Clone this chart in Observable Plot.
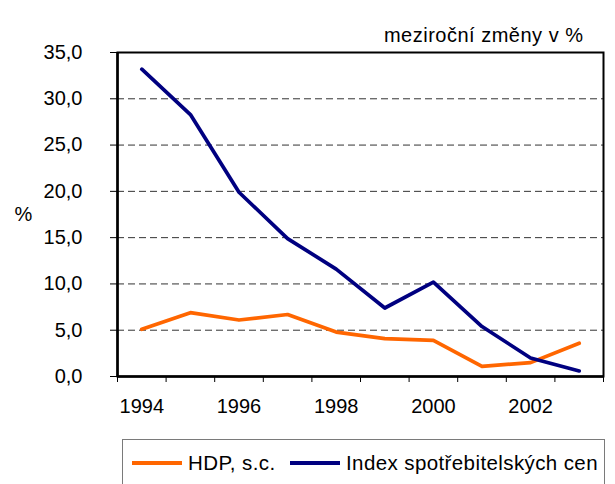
<!DOCTYPE html>
<html>
<head>
<meta charset="utf-8">
<script src="https://cdn.jsdelivr.net/npm/d3@7"></script>
<script src="https://cdn.jsdelivr.net/npm/@observablehq/plot@0.6"></script>
<style>
  html, body { margin: 0; padding: 0; background: #fff; }
  #wrap { position: relative; width: 615px; height: 484px; overflow: hidden; font-family: "Liberation Sans", Arial, sans-serif; }
  #legend { position: absolute; left: 122px; top: 439px; width: 483px; height: 60px; border: 1px solid #7a7a7a; box-sizing: border-box; font-size: 20.5px; letter-spacing: 0.4px; color: #000; }
  .item { position: absolute; top: 10px; display: flex; align-items: center; height: 26px; white-space: nowrap; }
  .sw { display: inline-block; width: 50px; height: 0; border-top: 4px solid; margin-right: 6px; }
</style>
</head>
<body>
<div id="wrap"></div>
<script>
const title = "meziroční změny v %";
const yLabel = "%";
const years = [1994, 1995, 1996, 1997, 1998, 1999, 2000, 2001, 2002, 2003];
const hdp = [5.1, 6.9, 6.1, 6.7, 4.8, 4.1, 3.9, 1.1, 1.5, 3.6];
const cpi = [33.2, 28.3, 19.9, 14.9, 11.6, 7.4, 10.2, 5.4, 2.0, 0.6];
const seriesNames = ["HDP, s.c.", "Index spotřebitelských cen"];
const seriesColors = ["#FF6600", "#000080"];
const yTicks = [0, 5, 10, 15, 20, 25, 30, 35];
const gridValues = [5, 10, 15, 20, 25, 30];
const xLabelTicks = [1994, 1996, 1998, 2000, 2002];
const xBoundaryTicks = [1993.5, 1994.5, 1995.5, 1996.5, 1997.5, 1998.5, 1999.5, 2000.5, 2001.5, 2002.5, 2003.5];

const rows = [];
years.forEach((y, i) => {
  rows.push({year: y, value: hdp[i], series: seriesNames[0]});
});
years.forEach((y, i) => {
  rows.push({year: y, value: cpi[i], series: seriesNames[1]});
});

const fmt = d => d.toFixed(1).replace(".", ",");

const chart = Plot.plot({
  width: 615,
  height: 484,
  marginLeft: 117,
  marginRight: 12,
  marginTop: 52,
  marginBottom: 108,
  style: {fontFamily: "'Liberation Sans', Arial, sans-serif", fontSize: "20px", color: "#000", background: "#fff"},
  x: {domain: [1993.5, 2003.5]},
  y: {domain: [0, 35]},
  color: {domain: seriesNames, range: seriesColors},
  marks: [
    Plot.ruleY(gridValues, {stroke: "#333", strokeWidth: 1, strokeDasharray: "7,4"}),
    Plot.axisY(yTicks, {tickSize: 7, tickPadding: 28, tickFormat: fmt, fontSize: 20, stroke: "#000", strokeWidth: 1, label: null}),
    Plot.axisX(xBoundaryTicks, {tickSize: 6, tickFormat: () => "", stroke: "#000", strokeWidth: 1, label: null}),
    Plot.axisX(xLabelTicks, {tickSize: 0, tickPadding: 22, tickFormat: d => String(d), fontSize: 20, label: null}),
    Plot.line(rows, {x: "year", y: "value", z: "series", stroke: "series", strokeWidth: 3.7, strokeLinejoin: "round", strokeLinecap: "round"}),
    Plot.frame({stroke: "#000", strokeWidth: 2}),
    Plot.ruleX([1993.5], {stroke: "#000", strokeWidth: 2.5}),
    Plot.ruleY([0], {stroke: "#000", strokeWidth: 2.5}),
    Plot.text([yLabel], {frameAnchor: "left", dx: -94, textAnchor: "middle", fontSize: 20}),
    Plot.text([title], {frameAnchor: "top-right", dx: -20, dy: -25, textAnchor: "end", fontSize: 20})
  ]
});

const wrap = document.getElementById("wrap");
wrap.appendChild(chart);
chart.querySelectorAll("text").forEach(t => {
  if (t.textContent === title) t.setAttribute("letter-spacing", "0.5");
});

const legend = document.createElement("div");
legend.id = "legend";
const positions = [9, 167];
seriesNames.forEach((name, i) => {
  const item = document.createElement("div");
  item.className = "item";
  item.style.left = positions[i] + "px";
  const sw = document.createElement("span");
  sw.className = "sw";
  sw.style.borderTopColor = seriesColors[i];
  const t = document.createElement("span");
  t.textContent = name;
  item.appendChild(sw);
  item.appendChild(t);
  legend.appendChild(item);
});
wrap.appendChild(legend);
</script>
</body>
</html>
